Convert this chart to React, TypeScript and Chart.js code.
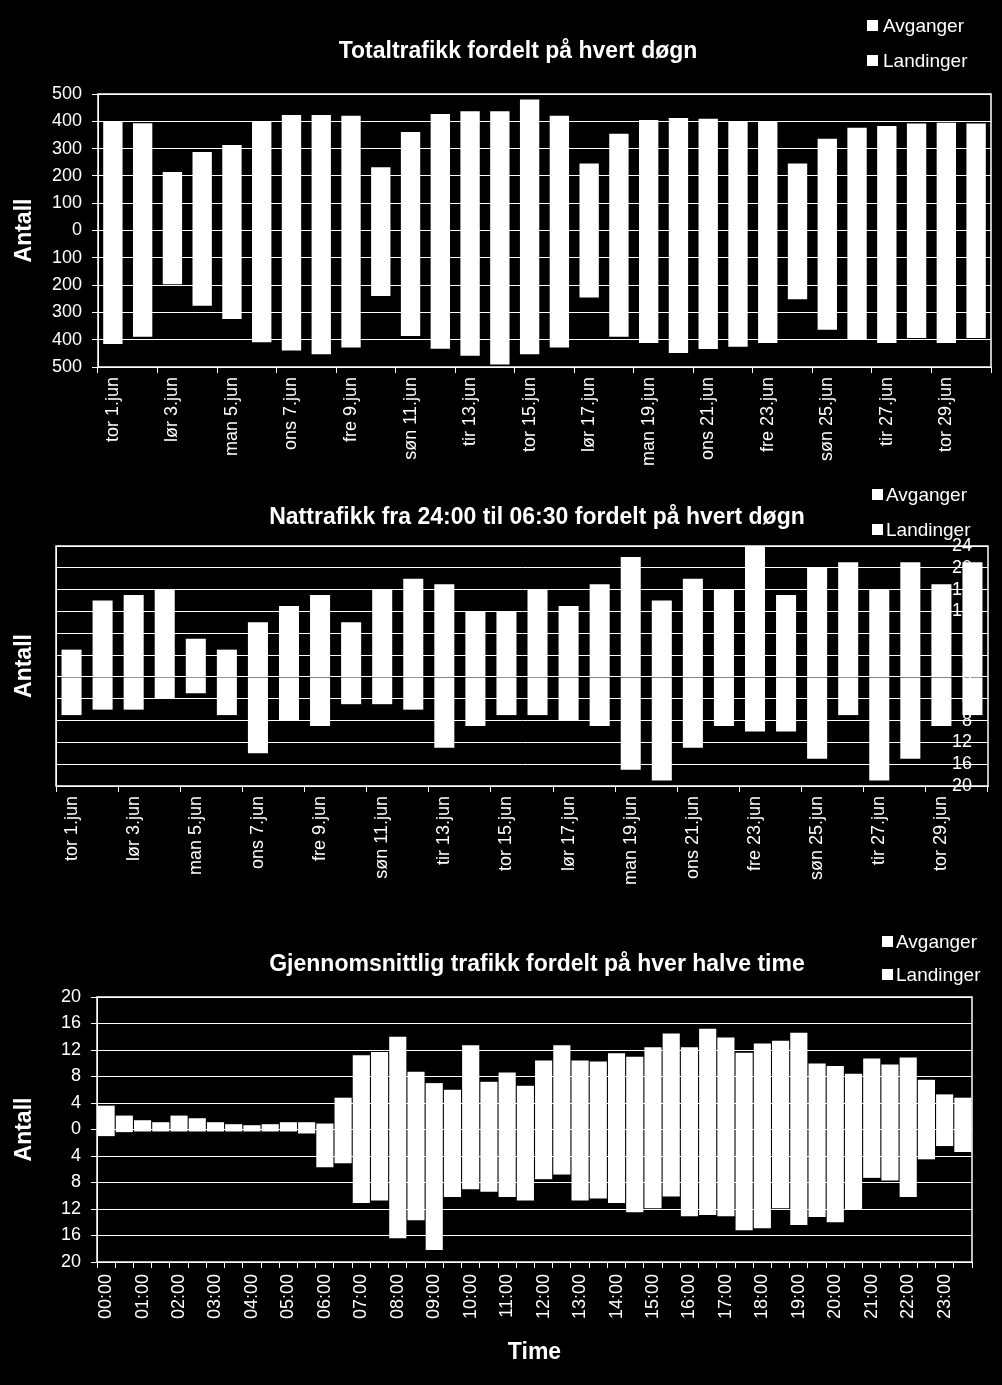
import React, { useEffect, useRef } from 'react';
import { Chart, registerables } from 'chart.js';

Chart.register(...registerables);

const FONT = '"Liberation Sans", Arial, Helvetica, sans-serif';
const WHITE = '#ffffff';
const CLEAR = 'rgba(0,0,0,0)';

// ---------- data ----------
const seriesNames = ['Avganger', 'Landinger'];

const titles = [
  'Totaltrafikk fordelt på hvert døgn',
  'Nattrafikk fra 24:00 til 06:30 fordelt på hvert døgn',
  'Gjennomsnittlig trafikk fordelt på hver halve time',
];

const days = [
  'tor 1.jun', 'fre 2.jun', 'lør 3.jun', 'søn 4.jun', 'man 5.jun', 'tir 6.jun',
  'ons 7.jun', 'tor 8.jun', 'fre 9.jun', 'lør 10.jun', 'søn 11.jun', 'man 12.jun',
  'tir 13.jun', 'ons 14.jun', 'tor 15.jun', 'fre 16.jun', 'lør 17.jun', 'søn 18.jun',
  'man 19.jun', 'tir 20.jun', 'ons 21.jun', 'tor 22.jun', 'fre 23.jun', 'lør 24.jun',
  'søn 25.jun', 'man 26.jun', 'tir 27.jun', 'ons 28.jun', 'tor 29.jun', 'fre 30.jun',
];

const dailyDepartures = [
  400, 393, 214, 288, 313, 400, 423, 423, 420, 232, 361, 427, 437, 437, 480,
  420, 245, 354, 405, 412, 409, 400, 400, 245, 336, 376, 383, 392, 395, 392,
];
const dailyLandings = [
  416, 389, 197, 276, 324, 409, 440, 453, 429, 240, 386, 433, 459, 491, 453,
  429, 245, 389, 412, 449, 434, 426, 412, 252, 364, 399, 412, 394, 412, 394,
];

const nightDepartures = [
  5, 14, 15, 16, 7, 5, 10, 13, 15, 10, 16, 18, 17, 12, 12,
  16, 13, 17, 22, 14, 18, 16, 24, 15, 20, 21, 16, 21, 17, 21,
];
const nightLandings = [
  7, 6, 6, 4, 3, 7, 14, 8, 9, 5, 5, 6, 13, 9, 7,
  7, 8, 9, 17, 19, 13, 9, 10, 10, 15, 7, 19, 15, 9, 7,
];

const halfHours = [
  '00:00', '00:30', '01:00', '01:30', '02:00', '02:30', '03:00', '03:30',
  '04:00', '04:30', '05:00', '05:30', '06:00', '06:30', '07:00', '07:30',
  '08:00', '08:30', '09:00', '09:30', '10:00', '10:30', '11:00', '11:30',
  '12:00', '12:30', '13:00', '13:30', '14:00', '14:30', '15:00', '15:30',
  '16:00', '16:30', '17:00', '17:30', '18:00', '18:30', '19:00', '19:30',
  '20:00', '20:30', '21:00', '21:30', '22:00', '22:30', '23:00', '23:30',
];
const halfHourDepartures = [
  3.6, 2.1, 1.4, 1.1, 2.1, 1.7, 1.1, 0.8, 0.65, 0.8, 1.1, 1.1,
  0.9, 4.8, 11.2, 11.7, 14.0, 8.7, 7.0, 6.0, 12.7, 7.2, 8.6, 6.6,
  10.4, 12.7, 10.4, 10.25, 11.5, 11.0, 12.4, 14.5, 12.4, 15.2, 13.9, 11.6,
  13.0, 13.4, 14.6, 9.95, 9.6, 8.4, 10.7, 9.8, 10.85, 7.5, 5.3, 4.8,
];
const halfHourLandings = [
  1.0, 0.4, 0.3, 0.3, 0.3, 0.3, 0.3, 0.3, 0.3, 0.3, 0.3, 0.6,
  5.7, 5.1, 11.1, 10.7, 16.4, 13.7, 18.2, 10.2, 9.0, 9.4, 10.2, 10.7,
  7.5, 6.8, 10.7, 10.4, 11.1, 12.5, 11.9, 10.1, 13.1, 12.9, 13.1, 15.2,
  14.9, 11.9, 14.4, 13.2, 14.0, 12.0, 7.3, 7.7, 10.2, 4.5, 2.5, 3.4,
];

// ---------- chart building ----------
type Spec = {
  labels: string[];
  up: number[];
  down: number[];
  width: number;
  height: number;
  padTop: number;
  padRight: number;
  yWidth: number;
  xHeight: number;
  yMin: number;
  yMax: number;
  yStep: number;
  labelEvery: number;
  markEvery: number;
  barPct: number;
  leftLabels: boolean;
  rightLabels: boolean;
  rightWidth: number;
  xPad: number;
  xTitle?: string;
};

const frame = {
  id: 'frame',
  beforeDatasetsDraw(chart: any) {
    const { ctx, chartArea: a } = chart;
    ctx.save();
    ctx.strokeStyle = WHITE;
    ctx.lineWidth = 1.5;
    ctx.strokeRect(a.left, a.top, a.right - a.left, a.bottom - a.top);
    ctx.restore();
  },
};

function buildConfig(s: Spec): any {
  const absTick = (v: any) => String(Math.abs(Number(v)));
  const markColor = (ctx: any) =>
    ctx.index === undefined || ctx.index % s.markEvery === 0 ? WHITE : CLEAR;
  const scales: any = {
    x: {
      type: 'category',
      stacked: true,
      offset: true,
      grid: {
        offset: true,
        drawOnChartArea: false,
        drawTicks: true,
        tickLength: 6,
        color: markColor,
        tickColor: markColor,
        lineWidth: 1,
      },
      border: { display: true, color: WHITE, width: 1 },
      ticks: {
        color: WHITE,
        font: { family: FONT, size: 18, lineHeight: 1 },
        autoSkip: false,
        minRotation: 90,
        maxRotation: 90,
        padding: s.xPad,
        callback: (_v: any, i: number) => (i % s.labelEvery === 0 ? s.labels[i] : ''),
      },
      afterFit: (sc: any) => {
        sc.height = s.xHeight;
        sc.paddingLeft = 0;
        sc.paddingRight = 0;
      },
    },
    y: {
      stacked: true,
      min: s.yMin,
      max: s.yMax,
      grid: { color: WHITE, lineWidth: 1, drawTicks: s.leftLabels, tickLength: 6 },
      border: { display: true, color: WHITE },
      ticks: {
        display: s.leftLabels,
        autoSkip: false,
        stepSize: s.yStep,
        color: WHITE,
        font: { family: FONT, size: 18 },
        padding: 10,
        callback: absTick,
      },
      title: {
        display: true,
        text: 'Antall',
        color: WHITE,
        font: { family: FONT, size: 23, weight: 'bold' },
        padding: { top: 11, bottom: 0 },
      },
      afterFit: (sc: any) => {
        sc.width = s.yWidth;
        sc.paddingTop = 0;
        sc.paddingBottom = 0;
      },
    },
  };
  if (s.xTitle) {
    scales.x.title = {
      display: true,
      text: s.xTitle,
      color: WHITE,
      font: { family: FONT, size: 23, weight: 'bold' },
      padding: { top: 0, bottom: 19 },
    };
  }
  if (s.rightLabels) {
    scales.y2 = {
      position: 'right',
      min: s.yMin,
      max: s.yMax,
      grid: { display: false },
      border: { display: false },
      ticks: {
        stepSize: s.yStep,
        autoSkip: false,
        mirror: true,
        padding: -16,
        color: WHITE,
        font: { family: FONT, size: 18 },
        callback: absTick,
      },
      afterFit: (sc: any) => {
        sc.width = s.rightWidth;
        sc.paddingTop = 0;
        sc.paddingBottom = 0;
      },
    };
  }
  const common = {
    backgroundColor: WHITE,
    borderWidth: 0,
    barPercentage: s.barPct,
    categoryPercentage: 1,
    stack: 'traffic',
  };
  return {
    type: 'bar',
    data: {
      labels: s.labels,
      datasets: [
        { ...common, label: seriesNames[0], data: s.up },
        { ...common, label: seriesNames[1], data: s.down.map((v) => -v) },
      ],
    },
    options: {
      responsive: false,
      animation: false,
      devicePixelRatio: 1,
      layout: { padding: { top: s.padTop, right: s.padRight, left: 0, bottom: 0 } },
      plugins: {
        legend: { display: false },
        title: { display: false },
        tooltip: { enabled: false },
      },
      scales,
    },
    plugins: [frame],
  };
}

function BarChart({ spec, top }: { spec: Spec; top: number }) {
  const ref = useRef<HTMLCanvasElement | null>(null);
  useEffect(() => {
    if (!ref.current) return;
    const chart = new Chart(ref.current, buildConfig(spec));
    return () => chart.destroy();
  }, [spec]);
  return (
    <canvas
      ref={ref}
      width={spec.width}
      height={spec.height}
      style={{ position: 'absolute', left: 0, top, width: spec.width, height: spec.height }}
    />
  );
}

function Text({ text, x, cy, size, bold, center }: any) {
  const style: any = {
    position: 'absolute',
    top: cy - 0.49 * size,
    fontFamily: FONT,
    fontSize: size,
    lineHeight: `${size}px`,
    fontWeight: bold ? 'bold' : 'normal',
    color: WHITE,
    whiteSpace: 'nowrap',
  };
  if (center) {
    style.left = x - 400;
    style.width = 800;
    style.textAlign = 'center';
  } else {
    style.left = x;
  }
  return <div style={style}>{text}</div>;
}

function Legend({ sqX, txtX, ys }: { sqX: number; txtX: number; ys: number[] }) {
  return (
    <>
      {seriesNames.map((name, i) => (
        <React.Fragment key={name}>
          <div
            style={{
              position: 'absolute',
              left: sqX,
              top: ys[i] - 5,
              width: 11,
              height: 11,
              background: WHITE,
            }}
          />
          <Text text={name} x={txtX} cy={ys[i]} size={19} />
        </React.Fragment>
      ))}
    </>
  );
}

const specDaily: Spec = {
  labels: days, up: dailyDepartures, down: dailyLandings,
  width: 1002, height: 470, padTop: 94, padRight: 11, yWidth: 98, xHeight: 103,
  yMin: -500, yMax: 500, yStep: 100, labelEvery: 2, markEvery: 2, barPct: 0.65,
  leftLabels: true, rightLabels: false, rightWidth: 0, xPad: 4,
};
const specNight: Spec = {
  labels: days, up: nightDepartures, down: nightLandings,
  width: 1002, height: 450, padTop: 76, padRight: 0, yWidth: 56, xHeight: 134,
  yMin: -20, yMax: 24, yStep: 4, labelEvery: 2, markEvery: 2, barPct: 0.645,
  leftLabels: false, rightLabels: true, rightWidth: 14, xPad: 4,
};
const specHalf: Spec = {
  labels: halfHours, up: halfHourDepartures, down: halfHourLandings,
  width: 1002, height: 465, padTop: 77, padRight: 30, yWidth: 97, xHeight: 123,
  yMin: -20, yMax: 20, yStep: 4, labelEvery: 2, markEvery: 1, barPct: 0.94,
  leftLabels: true, rightLabels: false, rightWidth: 0, xPad: 6, xTitle: 'Time',
};

export default function App() {
  return (
    <div
      style={{
        position: 'fixed',
        left: 0,
        top: 0,
        width: 1002,
        height: 1385,
        background: '#000',
        overflow: 'hidden',
      }}
    >
      <BarChart spec={specDaily} top={0} />
      <BarChart spec={specNight} top={470} />
      <BarChart spec={specHalf} top={920} />

      <Text text={titles[0]} x={518} cy={50} size={23} bold center />
      <Legend sqX={867} txtX={883} ys={[25, 60]} />

      <Text text={titles[1]} x={537} cy={516} size={23} bold center />
      <Legend sqX={872} txtX={886} ys={[494, 529]} />

      <Text text={titles[2]} x={537} cy={963} size={23} bold center />
      <Legend sqX={882} txtX={896} ys={[941, 974]} />
    </div>
  );
}
